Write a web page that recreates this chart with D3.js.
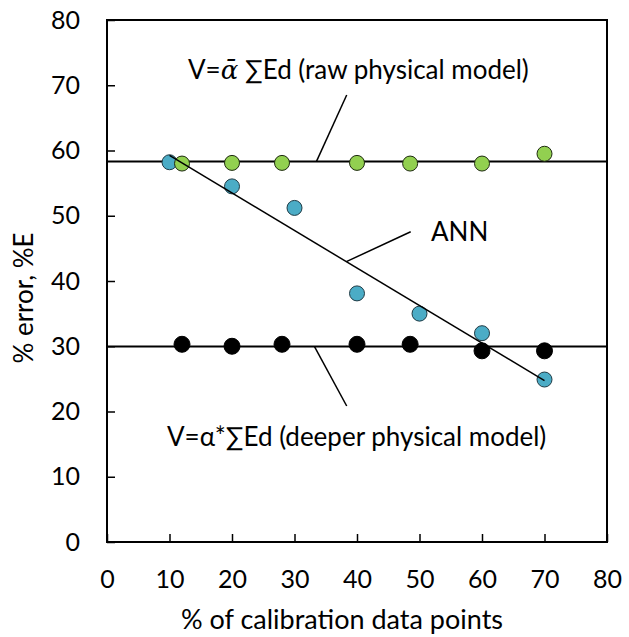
<!DOCTYPE html>
<html>
<head>
<meta charset="utf-8">
<script src="https://cdn.jsdelivr.net/npm/d3@7"></script>
<style>
  html, body { margin: 0; padding: 0; background: #fff; }
  text { font-family: Lato, "Open Sans", "DejaVu Sans", sans-serif; fill: #000; }
</style>
</head>
<body>
<svg id="chart" width="629" height="637"></svg>
<script>
// ---- data ----
const rawX = [12, 20, 28, 40, 48.5, 60, 70];
const rawY = [58.0, 58.1, 58.1, 58.1, 58.0, 58.0, 59.5];          // V = ᾱ ∑Ed (raw physical model)
const annX = [10, 20, 30, 40, 50, 60, 70];
const annY = [58.2, 54.5, 51.2, 38.1, 35.0, 32.0, 24.9];          // ANN
const deepX = [12, 20, 28, 40, 48.5, 60, 70];
const deepY = [30.3, 30.0, 30.3, 30.3, 30.3, 29.3, 29.3];         // V = α*∑Ed (deeper physical model)
const rawLevel = 58.3;   // horizontal line of raw model
const deepLevel = 29.95; // horizontal line of deeper model
const xTicks = [0, 10, 20, 30, 40, 50, 60, 70, 80];
const yTicks = [0, 10, 20, 30, 40, 50, 60, 70, 80];
const xTitle = "% of calibration data points";
const yTitle = "% error, %E";

// ---- layout ----
const W = 629, H = 637;
const m = { left: 107, right: 22, top: 20, bottom: 95 };
const FS = 25;
const svg = d3.select("#chart");
const x = d3.scaleLinear().domain([0, 80]).range([m.left, W - m.right]);
const y = d3.scaleLinear().domain([0, 80]).range([H - m.bottom, m.top]);

// axes (ticks inward)
const xAxis = svg.append("g").attr("transform", `translate(0,${H - m.bottom})`)
  .call(d3.axisBottom(x).tickValues(xTicks).tickSizeInner(-8).tickSizeOuter(0).tickPadding(28));
const yAxis = svg.append("g").attr("transform", `translate(${m.left},0)`)
  .call(d3.axisLeft(y).tickValues(yTicks).tickSizeInner(-8).tickSizeOuter(0).tickPadding(27));
[xAxis, yAxis].forEach(g => {
  g.select(".domain").remove();
  g.selectAll(".tick line").attr("stroke", "#000").attr("stroke-width", 1.5);
  g.selectAll(".tick text").style("font-family", "Lato, sans-serif").style("font-size", FS + "px").attr("fill", "#000");
});
xAxis.selectAll(".tick text").attr("dy", "0.71em");
// plot box
svg.append("rect").attr("x", x(0)).attr("y", y(80))
  .attr("width", x(80) - x(0)).attr("height", y(0) - y(80))
  .attr("fill", "none").attr("stroke", "#000").attr("stroke-width", 2);

// axis titles
svg.append("text").attr("x", 342).attr("y", 629).attr("text-anchor", "middle")
  .style("font-size", "27px").text(xTitle);
svg.append("text").attr("transform", `translate(33,298) rotate(-90)`).attr("text-anchor", "middle")
  .style("font-size", "26px").text(yTitle);

// horizontal model lines
const hl = svg.append("g");
[rawLevel, deepLevel].forEach(v => {
  hl.append("line").attr("x1", x(0)).attr("x2", x(80)).attr("y1", y(v)).attr("y2", y(v))
    .attr("stroke", "#000").attr("stroke-width", 2);
});

// points
function dots(xs, ys, fill, stroke, r) {
  svg.append("g").selectAll("circle").data(xs.map((d, i) => [d, ys[i]])).join("circle")
    .attr("cx", d => x(d[0])).attr("cy", d => y(d[1])).attr("r", r)
    .attr("fill", fill).attr("stroke", stroke).attr("stroke-width", 1);
}
dots(deepX, deepY, "#000", "#000", 8);
dots(annX, annY, "#4bacc6", "#1f3a44", 7.5);
dots(rawX, rawY, "#92d050", "#1e2a10", 7.5);

// ANN linear trendline (least squares)
const mx = d3.mean(annX), my = d3.mean(annY);
const slope = d3.sum(annX, (d, i) => (d - mx) * (annY[i] - my)) / d3.sum(annX, d => (d - mx) ** 2);
const icpt = my - slope * mx;
const fit = v => icpt + slope * v;
const [x0, x1] = d3.extent(annX);
svg.append("line").attr("x1", x(x0)).attr("y1", y(fit(x0))).attr("x2", x(x1)).attr("y2", y(fit(x1)))
  .attr("stroke", "#000").attr("stroke-width", 1.5);

// annotations with leader lines
function leader(xa, ya, xb, yb) {
  svg.append("line").attr("x1", xa).attr("y1", ya).attr("x2", xb).attr("y2", yb)
    .attr("stroke", "#000").attr("stroke-width", 1.5);
}
const t1 = svg.append("text").attr("x", 188).attr("y", 79).style("font-size", "26px");
t1.append("tspan").text("V=");
t1.append("tspan").style("font-style", "italic").style("font-family", "'DejaVu Serif', serif").text("\u1FB1");
t1.append("tspan").text(" \u2211Ed (raw physical model)");
leader(346.7, 95, x(33.5), y(rawLevel));

svg.append("text").attr("x", 431).attr("y", 241).style("font-size", "26px").text("ANN");
leader(410.7, 231.7, x(38.3), y(fit(38.3)));

svg.append("text").attr("x", 167).attr("y", 446).style("font-size", "26px")
  .text("V=\u03B1*\u2211Ed (deeper physical model)");
leader(x(33.2), y(deepLevel), 346.7, 406);
</script>
</body>
</html>
